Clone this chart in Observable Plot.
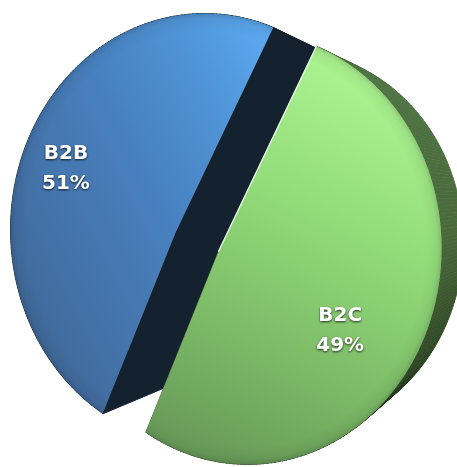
<!DOCTYPE html>
<html>
<head>
<meta charset="utf-8">
<script src="https://cdn.jsdelivr.net/npm/d3@7"></script>
<script src="https://cdn.jsdelivr.net/npm/@observablehq/plot@0.6"></script>
<style>
  html, body { margin: 0; padding: 0; background: #fff; }
  #chart svg text { filter: drop-shadow(0px 1px 1.2px rgba(0,0,0,0.75)); }
</style>
</head>
<body>
<div id="chart"></div>
<script>
// ---- data ----
const categories = ["B2B", "B2C"];
const shares = [51, 49];
const shareLabels = ["51%", "49%"];

// ---- layout / style (not data) ----
const W = 457, H = 467;
const apex = [175, 232];          // projected pie centre
const ell = {cx: 204, cy: 229, rx: 194, ry: 216};
const startDeg = 201.9;           // clockwise from 12 o'clock
const explode = [0, 47];
const VP = [621, 195];            // vanishing point of the depth
const depthK = 0.88;
const labelRadius = [0.74, 0.64];
const labelTurn = 8;
const faceFill = ["url(#gBlue)", "url(#gGreen)"];
const sideColors = [["#14212f", "#14212f", "#14212f"], ["#507444", "#4a6b3b", "#253a1d"]];

const rad = d => d * Math.PI / 180;
function dir(deg) { return [Math.sin(rad(deg)), -Math.cos(rad(deg))]; }
function rimDist(deg) {
  const [dx, dy] = dir(deg);
  const px = apex[0] - ell.cx, py = apex[1] - ell.cy;
  const a = dx*dx/(ell.rx*ell.rx) + dy*dy/(ell.ry*ell.ry);
  const b = 2*(px*dx/(ell.rx*ell.rx) + py*dy/(ell.ry*ell.ry));
  const c = px*px/(ell.rx*ell.rx) + py*py/(ell.ry*ell.ry) - 1;
  return (-b + Math.sqrt(b*b - 4*a*c)) / (2*a);
}
const total = d3.sum(shares);
let acc = startDeg;
const slices = categories.map((name, i) => {
  const sweep = shares[i] / total * 360;
  const a0 = acc; acc += sweep;
  const mid = a0 + sweep / 2;
  const [mx, my] = dir(mid);
  return {name, i, a0, a1: acc, mid, off: [mx*explode[i], my*explode[i]]};
});
function rim(s, deg) {
  const r = rimDist(deg), [dx, dy] = dir(deg);
  return [apex[0] + dx*r + s.off[0], apex[1] + dy*r + s.off[1]];
}
function ctr(s) { return [apex[0] + s.off[0], apex[1] + s.off[1]]; }
function back(p) { return [VP[0] + depthK*(p[0]-VP[0]), VP[1] + depthK*(p[1]-VP[1])]; }

// build polygons
const faceRows = [], sideRows = [], edgeRows = [];
let pid = 0;
for (const s of slices) {
  const n = Math.ceil(s.a1 - s.a0);
  const arc = d3.range(n + 1).map(k => rim(s, s.a0 + (s.a1 - s.a0) * k / n));
  const c = ctr(s);
  const sideColor = d3.piecewise(d3.interpolateRgb, sideColors[s.i]);
  for (let k = 0; k < n; k++) {
    const f0 = arc[k], f1 = arc[k+1];
    const col = sideColor(Math.max(0, Math.min(1, (f0[1] - 50) / 360)));
    pid++;
    [f0, f1, back(f1), back(f0)].forEach(p => sideRows.push({slice: s.i, poly: pid, x: p[0], y: p[1], col}));
  }
  {
    const col = sideColor(0.5);
    pid++;
    [arc[0], c, arc[n], back(arc[n]), back(c), back(arc[0])].forEach(p => sideRows.push({slice: s.i, poly: pid, x: p[0], y: p[1], col}));
  }
  pid++;
  [c, ...arc].forEach(p => faceRows.push({slice: s.i, poly: pid, x: p[0], y: p[1]}));
  if (s.i === 1) [c, arc[0]].forEach(p => edgeRows.push({x: p[0], y: p[1]}));
}

const labelRows = slices.map(s => {
  const ang = s.mid + labelTurn;
  const r = rimDist(ang) * labelRadius[s.i];
  const [dx, dy] = dir(ang), c = ctr(s);
  return {x: c[0] + dx*r, y: c[1] + dy*r, text: categories[s.i] + "\n" + shareLabels[s.i]};
});

const marks = [];
for (const s of slices) {
  const rows = faceRows.filter(d => d.slice === s.i);
  marks.push(Plot.line(sideRows.filter(d => d.slice === s.i), {x: "x", y: "y", z: "poly", curve: "linear-closed", fill: "col", stroke: "col", strokeWidth: 0.8}));
  marks.push(Plot.line(rows, {x: "x", y: "y", z: "poly", curve: "linear-closed", fill: faceFill[s.i], stroke: "none"}));
  marks.push(Plot.line(rows, {x: "x", y: "y", z: "poly", curve: "linear-closed", fill: `url(#rimShade${s.i})`, stroke: "none"}));
}
marks.push(Plot.line(edgeRows, {x: "x", y: "y", stroke: "#f4fff0", strokeWidth: 1.3, strokeOpacity: 0.9}));
marks.push(Plot.text(labelRows, {x: "x", y: "y", text: "text", fill: "white", fontSize: 20, fontWeight: "bold", fontFamily: "DejaVu Sans, Verdana, sans-serif", lineHeight: 1.5}));

const chart = Plot.plot({
  width: W, height: H,
  margin: 0,
  x: {domain: [0, W], axis: null},
  y: {domain: [0, H], reverse: true, axis: null},
  color: {type: "identity"},
  marks
});

const defs = d3.select(chart).insert("defs", ":first-child");
const gb = defs.append("linearGradient").attr("id", "gBlue").attr("x1", 1).attr("y1", 0.1).attr("x2", 0).attr("y2", 0.85);
[[0, "#5ca8f0"], [0.18, "#5096d9"], [0.45, "#4881c0"], [0.75, "#4472a8"], [1, "#3f6593"]].forEach(([o, c]) => gb.append("stop").attr("offset", o).attr("stop-color", c));
const gg = defs.append("linearGradient").attr("id", "gGreen").attr("x1", 0.7).attr("y1", 0).attr("x2", 0.35).attr("y2", 1);
[[0, "#aef793"], [0.4, "#92db79"], [0.75, "#7bb966"], [1, "#6a9d5a"]].forEach(([o, c]) => gg.append("stop").attr("offset", o).attr("stop-color", c));
slices.forEach(s => {
  const cx = ell.cx + s.off[0], cy = ell.cy + s.off[1];
  const rg = defs.append("radialGradient").attr("id", `rimShade${s.i}`).attr("gradientUnits", "userSpaceOnUse")
    .attr("cx", cx).attr("cy", cy).attr("r", ell.ry)
    .attr("gradientTransform", `translate(${cx},${cy}) scale(${ell.rx/ell.ry},1) translate(${-cx},${-cy})`);
  [[0, 0], [0.92, 0], [0.975, 0.05], [1, 0.15]].forEach(([o, a]) => rg.append("stop").attr("offset", o).attr("stop-color", "#000").attr("stop-opacity", a));
});

document.getElementById("chart").appendChild(chart);
</script>
</body>
</html>
